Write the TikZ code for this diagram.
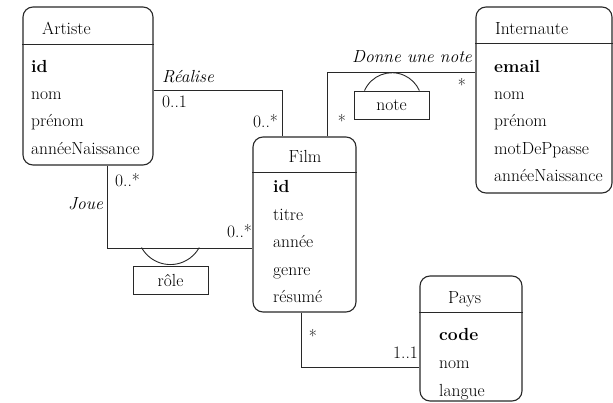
\documentclass[tikz,border=0pt]{standalone}
\usepackage{fontspec}
\usepackage{tikz}
\definecolor{linegray}{RGB}{40,40,40}

\begin{document}
\begin{tikzpicture}[x=1pt, y=-1pt,
  font=\rmfamily\fontsize{17.5}{20}\selectfont,
  entity/.style={draw=linegray, line width=1.1pt, rounded corners=10pt, inner sep=0pt},
  sep/.style={draw=linegray, line width=1.1pt},
  link/.style={draw=linegray, line width=0.9pt},
  assoc/.style={draw=linegray, fill=white, line width=0.9pt, minimum width=75pt, minimum height=28pt, inner sep=0pt},
  txt/.style={anchor=base west, inner sep=0pt},
  mult/.style={anchor=base, inner sep=0pt}]
  \useasboundingbox (0,0) rectangle (613,403);

  % entities
  \node[entity, minimum width=130pt, minimum height=158pt] (artiste) at (88,86) {};
  \node[entity, minimum width=103pt, minimum height=175pt] (film) at (304.5,224.5) {};
  \node[entity, minimum width=136pt, minimum height=186pt] (internaute) at (544,100) {};
  \node[entity, minimum width=102pt, minimum height=125pt] (pays) at (471,338.5) {};

  \draw[sep] ([yshift=-38pt]artiste.north west) -- ([yshift=-38pt]artiste.north east);
  \draw[sep] ([yshift=-36pt]film.north west) -- ([yshift=-36pt]film.north east);
  \draw[sep] ([yshift=-37pt]internaute.north west) -- ([yshift=-37pt]internaute.north east);
  \draw[sep] ([yshift=-37pt]pays.north west) -- ([yshift=-37pt]pays.north east);

  \node[txt] (artisteT) at (42,35) {Artiste};
  \node[txt] (artisteA1) at (31,73) {\textbf{id}};
  \node[txt] (artisteA2) at (31,100) {nom};
  \node[txt] (artisteA3) at (31,127) {prénom};
  \node[txt] (artisteA4) at (31,155) {annéeNaissance};

  \node[anchor=base, inner sep=0pt] (filmT) at (305,163) {Film};
  \node[txt] (filmA1) at (273,193) {\textbf{id}};
  \node[txt] (filmA2) at (273,220.5) {titre};
  \node[txt] (filmA3) at (273,248) {année};
  \node[txt] (filmA4) at (273,275.5) {genre};
  \node[txt] (filmA5) at (273,303) {résumé};

  \node[txt] (internauteT) at (495,35) {Internaute};
  \node[txt] (internauteA1) at (494,73) {\textbf{email}};
  \node[txt] (internauteA2) at (494,100) {nom};
  \node[txt] (internauteA3) at (494,127) {prénom};
  \node[txt] (internauteA4) at (494,155) {motDePpasse};
  \node[txt] (internauteA5) at (494,182) {annéeNaissance};

  \node[txt] (paysT) at (448,304) {Pays};
  \node[txt] (paysA1) at (439,340) {\textbf{code}};
  \node[txt] (paysA2) at (439,368) {nom};
  \node[txt] (paysA3) at (439,396) {langue};

  % associations
  \draw[link] ([yshift=-4pt]artiste.east) -| ([xshift=-22.5pt]film.north);
  \draw[link] ([xshift=22.5pt]film.north) |- ([yshift=28pt]internaute.west);
  \draw[link] ([xshift=19pt]artiste.south) |- ([yshift=-23.5pt]film.west);
  \draw[link] ([xshift=-3.5pt]film.south) |- ([yshift=-28.5pt]pays.west);

  \node[assoc] (note) at (391.5,105) {note};
  \node[assoc] (role) at (170.5,280) {rôle};
  \draw[link] (note.north west) ++(11,0) arc[start angle=156, end angle=24, radius=30pt];
  \draw[link] (role.north west) ++(9,-18) arc[start angle=209, end angle=331, radius=33pt];

  \node[txt] (realise) at (162,83) {\textit{Réalise}};
  \node[txt] (joue) at (68,210) {\textit{Joue}};
  \node[txt] (donne) at (352,63) {\textit{Donne une note}};

  \node[txt] (m1) at (162,108) {0..1};
  \node[txt] (m2) at (253,128) {0..*};
  \node[txt] (m3) at (115,187) {0..*};
  \node[txt] (m4) at (227,238) {0..*};
  \node[txt] (m5) at (393,358) {1..1};
  \node[mult] (m6) at (462,92) {*};
  \node[mult] (m7) at (342,128) {*};
  \node[mult] (m8) at (313,342) {*};
\end{tikzpicture}
\end{document}
